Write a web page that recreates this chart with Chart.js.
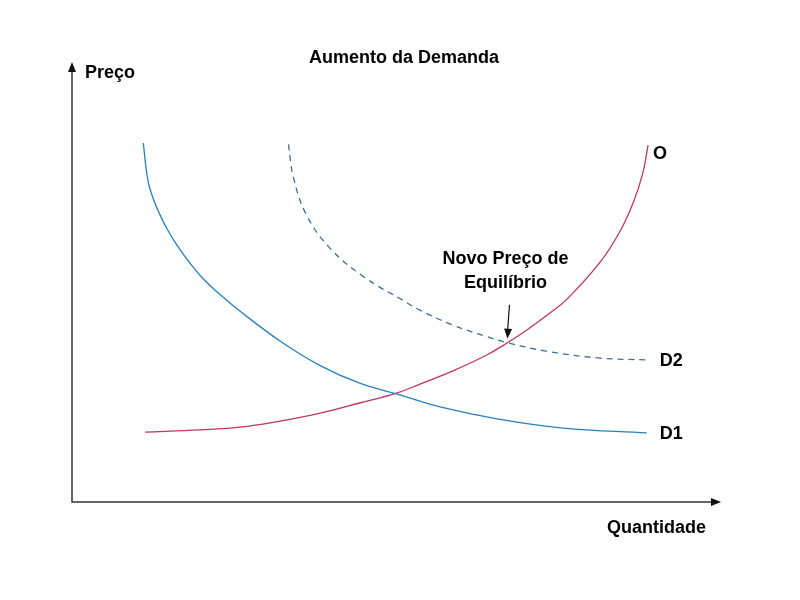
<!DOCTYPE html>
<html>
<head>
<meta charset="utf-8">
<script src="https://cdn.jsdelivr.net/npm/chart.js@4/dist/chart.umd.min.js"></script>
<style>
  html, body { margin: 0; padding: 0; background: #fff; }
  #wrap { width: 800px; height: 600px; }
</style>
</head>
<body>
<div id="wrap"><canvas id="chart" width="800" height="600"></canvas></div>
<script>
'use strict';

// quantity (x) / price (y), both on a 0-100 scale
const d1X = [11.0, 11.7, 12.5, 13.6, 14.7, 16.2, 18.2, 20.2, 22.8, 25.9, 32.1, 38.3, 44.4, 50.2, 56.8, 65.6, 75.8, 88.7];
const d1Y = [81.6, 73.2, 69.1, 65.2, 62.0, 58.4, 54.3, 50.8, 47.2, 43.4, 36.6, 31.0, 27.0, 24.5, 21.6, 18.9, 16.8, 15.7];

const d2X = [33.4, 34.2, 36.2, 39.8, 45.0, 51.1, 53.7, 58.8, 64.0, 67.2, 73.5, 81.5, 88.7];
const d2Y = [81.3, 73.6, 65.2, 57.7, 51.2, 45.8, 43.6, 40.2, 37.6, 36.2, 34.2, 32.7, 32.3];

const oX = [11.3, 19.8, 25.9, 32.1, 38.3, 44.4, 50.2, 53.7, 58.8, 64.0, 67.2, 70.2, 73.8, 76.4, 81.5, 84.6, 86.6, 88.1, 88.9];
const oY = [15.9, 16.4, 17.0, 18.4, 20.2, 22.5, 24.8, 26.8, 29.8, 33.4, 36.2, 39.1, 43.0, 46.1, 54.5, 61.6, 68.0, 74.8, 81.1];

const curveLabels = ['D1', 'D2', 'O'];
const equilibrium = { x: 67.2, y: 36.2 };
const noteLines = ['Novo Preço de', 'Equilíbrio'];
const titleText = 'Aumento da Demanda';
const xAxisLabel = 'Quantidade';
const yAxisLabel = 'Preço';

const toPoints = (xs, ys) => xs.map((x, i) => ({ x: x, y: ys[i] }));

const FONT = 'bold 18px "Liberation Sans", Arial, sans-serif';

function arrowHead(ctx, x, y, dx, dy) {
  const len = 10, half = 4;
  const n = Math.hypot(dx, dy);
  const ux = dx / n, uy = dy / n;
  ctx.beginPath();
  ctx.moveTo(x, y);
  ctx.lineTo(x - ux * len - uy * half, y - uy * len + ux * half);
  ctx.lineTo(x - ux * len + uy * half, y - uy * len - ux * half);
  ctx.closePath();
  ctx.fill();
}

const decorations = {
  id: 'decorations',
  afterDatasetsDraw(chart) {
    const ctx = chart.ctx;
    const area = chart.chartArea;
    const xs = chart.scales.x, ys = chart.scales.y;
    ctx.save();

    // axes with arrows
    ctx.strokeStyle = '#333';
    ctx.fillStyle = '#111';
    ctx.lineWidth = 1.5;
    ctx.beginPath();
    ctx.moveTo(area.left, area.top + 6);
    ctx.lineTo(area.left, area.bottom);
    ctx.lineTo(area.right - 6, area.bottom);
    ctx.stroke();
    arrowHead(ctx, area.left, area.top, 0, -1);
    arrowHead(ctx, area.right + 1, area.bottom, 1, 0);

    ctx.font = FONT;
    ctx.fillStyle = '#000';
    ctx.textBaseline = 'middle';

    // curve labels at the end of each curve
    chart.data.datasets.forEach((ds, i) => {
      const last = ds.data[ds.data.length - 1];
      ctx.textAlign = 'left';
      ctx.fillText(curveLabels[i], xs.getPixelForValue(last.x) + (i === 2 ? 5 : 13), ys.getPixelForValue(last.y) + (i === 2 ? 9 : 1));
    });

    // axis labels and title
    ctx.textAlign = 'left';
    ctx.fillText(yAxisLabel, area.left + 13, area.top + 11);
    ctx.textAlign = 'right';
    ctx.fillText(xAxisLabel, area.right - 14, area.bottom + 26);
    ctx.textAlign = 'center';
    ctx.fillText(titleText, 404, 58);

    // note + arrow to new equilibrium
    const ex = xs.getPixelForValue(equilibrium.x);
    const ey = ys.getPixelForValue(equilibrium.y);
    ctx.fillText(noteLines[0], ex - 2, ey - 84);
    ctx.fillText(noteLines[1], ex - 2, ey - 60);
    ctx.strokeStyle = '#111';
    ctx.lineWidth = 1.2;
    ctx.beginPath();
    ctx.moveTo(ex + 2, ey - 38);
    ctx.lineTo(ex, ey - 10);
    ctx.stroke();
    ctx.fillStyle = '#111';
    arrowHead(ctx, ex, ey - 4, -2, 30);

    ctx.restore();
  }
};

const lineStyle = { borderWidth: 1.3, tension: 0.4, pointRadius: 0, fill: false };

const config = {
  type: 'line',
  data: {
    datasets: [
      Object.assign({ label: 'D1', data: toPoints(d1X, d1Y), borderColor: '#2580bd' }, lineStyle),
      Object.assign({ label: 'D2', data: toPoints(d2X, d2Y), borderColor: '#3a6d98', borderDash: [6, 5] }, lineStyle),
      Object.assign({ label: 'O', data: toPoints(oX, oY), borderColor: '#bf3465' }, lineStyle)
    ]
  },
  options: {
    responsive: false,
    animation: false,
    parsing: false,
    layout: { padding: { left: 72, right: 80, top: 62, bottom: 98 } },
    plugins: {
      legend: { display: false },
      tooltip: { enabled: false },
      title: { display: false }
    },
    scales: {
      x: { type: 'linear', min: 0, max: 100, display: false },
      y: { type: 'linear', min: 0, max: 100, display: false }
    }
  },
  plugins: [decorations]
};

const chart = new Chart(document.querySelector('#chart').getContext('2d'), config);
</script>
</body>
</html>
